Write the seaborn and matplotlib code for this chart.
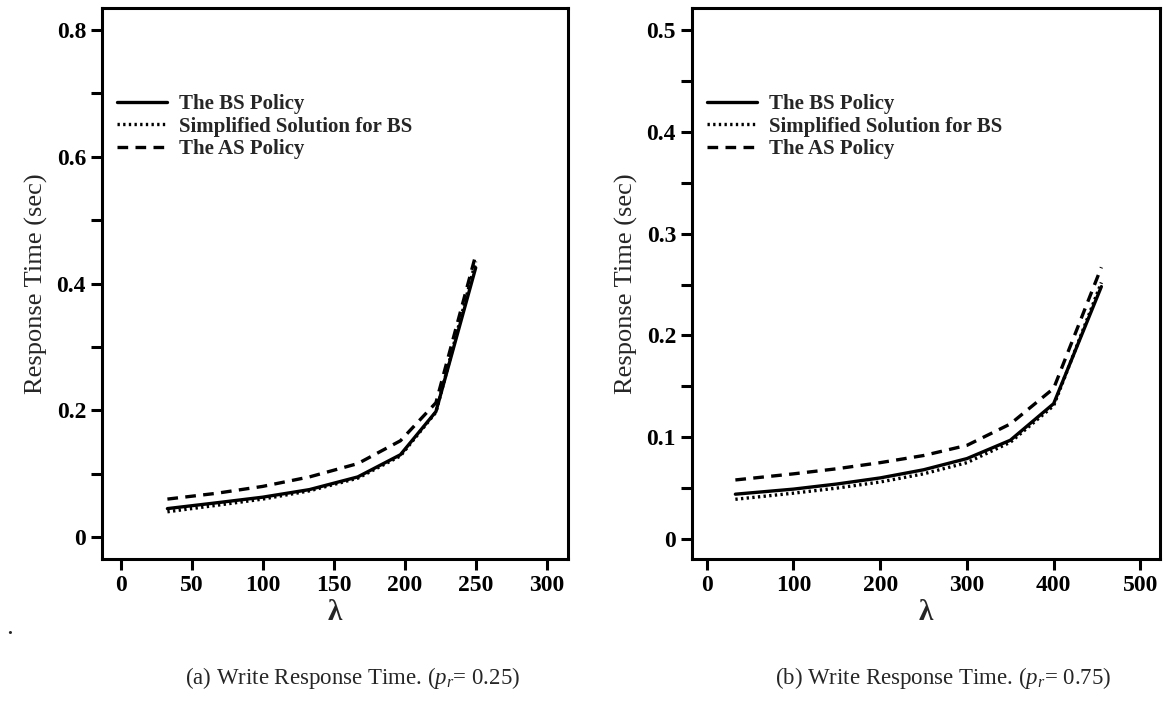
import matplotlib
matplotlib.use("Agg")
import matplotlib.pyplot as plt
import numpy as np
import pandas as pd
import seaborn as sns

# panel (a): p_r = 0.25
lam_a = [33, 67, 100, 133, 167, 197, 222, 250]
bs_a = [0.045, 0.054, 0.063, 0.075, 0.095, 0.130, 0.198, 0.425]
simp_a = [0.040, 0.050, 0.060, 0.073, 0.093, 0.128, 0.197, 0.435]
as_a = [0.060, 0.069, 0.080, 0.095, 0.116, 0.152, 0.212, 0.445]

# panel (b): p_r = 0.75
lam_b = [33, 100, 150, 200, 250, 300, 350, 400, 455]
bs_b = [0.044, 0.049, 0.054, 0.060, 0.068, 0.079, 0.097, 0.133, 0.248]
simp_b = [0.039, 0.045, 0.050, 0.056, 0.064, 0.075, 0.095, 0.131, 0.252]
as_b = [0.058, 0.064, 0.069, 0.075, 0.082, 0.092, 0.113, 0.148, 0.267]

names = ["The BS Policy", "Simplified Solution for BS", "The AS Policy"]
captions = ["(a) Write Response Time. ($p_r$= 0.25)",
            "(b) Write Response Time. ($p_r$= 0.75)"]

sns.set_style("ticks")
plt.rcParams['font.family'] = ['Liberation Serif', 'DejaVu Serif']
plt.rcParams['mathtext.fontset'] = 'custom'
plt.rcParams['mathtext.rm'] = 'Liberation Serif'
plt.rcParams['mathtext.it'] = 'Liberation Serif:italic'


def long_df(lam, bs, simp, asp):
    rows = []
    for name, vals in zip(names, [bs, simp, asp]):
        for x, y in zip(lam, vals):
            rows.append({"lam": x, "rt": y, "policy": name})
    return pd.DataFrame(rows)


dashes = {names[0]: "", names[1]: (0.7, 1.0), names[2]: (3.2, 2.2)}

fig = plt.figure(figsize=(11.65, 7.08), dpi=100)
ax1 = fig.add_axes([0.0876, 0.21, 0.400, 0.779])
ax2 = fig.add_axes([0.594, 0.21, 0.402, 0.779])

panels = [
    (ax1, long_df(lam_a, bs_a, simp_a, as_a), (-13, 315), (-0.035, 0.835),
     np.arange(0, 301, 50), np.arange(0, 0.81, 0.2), np.arange(0, 0.81, 0.1)),
    (ax2, long_df(lam_b, bs_b, simp_b, as_b), (-17, 523), (-0.02, 0.522),
     np.arange(0, 501, 100), np.arange(0, 0.51, 0.1), np.arange(0, 0.51, 0.05)),
]

for i, (ax, df, xl, yl, xt, yt, ym) in enumerate(panels):
    sns.lineplot(data=df, x="lam", y="rt", style="policy", style_order=names,
                 dashes=dashes, color="black", linewidth=2.4, errorbar=None,
                 ax=ax, legend=False)
    ax.set_xlim(*xl)
    ax.set_ylim(*yl)
    ax.set_xticks(xt)
    ax.set_yticks(yt)
    ax.set_yticks(ym, minor=True)
    ax.set_xticklabels([str(int(v)) for v in xt])
    ax.set_yticklabels(["0"] + ["%.1f" % v for v in yt[1:]])
    for s in ax.spines.values():
        s.set_linewidth(2.2)
        s.set_color("black")
    ax.tick_params(axis="both", which="both", direction="out", length=8,
                   width=2.2, colors="black", labelsize=17)
    ax.tick_params(axis="y", which="minor", length=8, width=2.2)
    for lab in ax.get_xticklabels() + ax.get_yticklabels():
        lab.set_fontweight("bold")
    ax.set_xlabel("λ", fontsize=21, fontweight="bold", labelpad=2)
    ax.set_ylabel("Response Time (sec)", fontsize=19, labelpad=6)
    ax.legend(ax.lines[:3], names, loc="upper left", bbox_to_anchor=(0.0, 0.87),
              frameon=False, handlelength=2.4, handletextpad=0.6,
              labelspacing=0.12, borderaxespad=0.3,
              prop={"size": 15, "weight": "bold", "family": "Liberation Serif"})
    box = ax.get_position()
    fig.text(box.x0 + box.width / 2 + 0.015, 0.043, captions[i], ha="center",
             va="center", fontsize=16.5)

fig.text(0.006, 0.105, ".", fontsize=14, fontweight="bold")

fig.savefig("out.png", dpi=100)
